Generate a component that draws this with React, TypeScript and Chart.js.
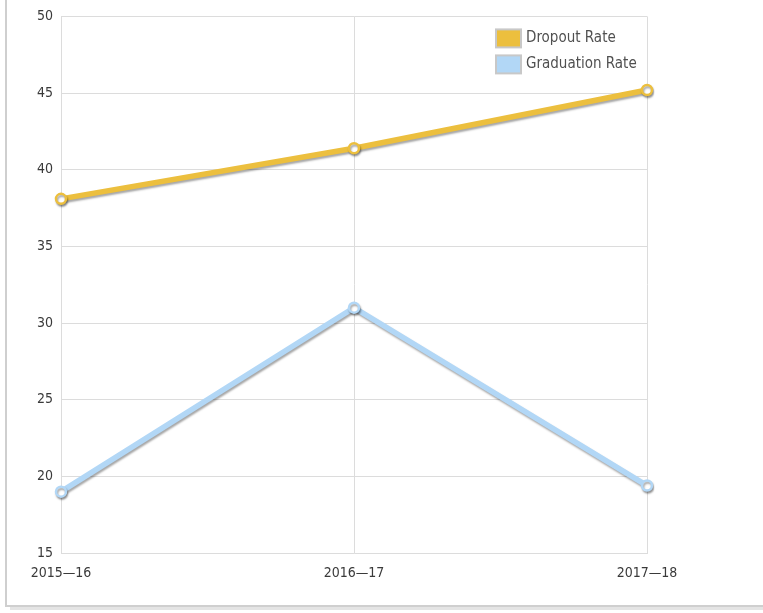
import React, { useEffect, useRef } from "react";
import { Chart, registerables } from "chart.js";

Chart.register(...registerables);

const categories = ["2015\u201416", "2016\u201417", "2017\u201418"];
const dropoutRate = [38.1, 41.4, 45.2];
const graduationRate = [19.0, 31.0, 19.4];
const seriesLabels = ["Dropout Rate", "Graduation Rate"];
const yMin = 15;
const yMax = 50;
const yStep = 5;

const GOLD = "rgb(236,191,62)";
const BLUE = "rgb(178,215,246)";
const FONT = '"DejaVu Sans Condensed", "DejaVu Sans", sans-serif';

const shadowPlugin = {
  id: "lineShadow",
  beforeDatasetsDraw(chart: any) {
    const ctx = chart.ctx;
    ctx.save();
    ctx.shadowColor = "rgba(0,0,0,0.35)";
    ctx.shadowBlur = 2;
    ctx.shadowOffsetX = 1;
    ctx.shadowOffsetY = 2;
  },
  afterDatasetsDraw(chart: any) {
    chart.ctx.restore();
  },
};

const legendPlugin = {
  id: "boxLegend",
  afterDraw(chart: any) {
    const { ctx, chartArea } = chart;
    const x0 = chartArea.right - 152;
    let y = chartArea.top + 12;
    ctx.save();
    chart.data.datasets.forEach((ds: any) => {
      ctx.fillStyle = "#c8c8c8";
      ctx.fillRect(x0, y, 27, 20);
      ctx.fillStyle = ds.borderColor;
      ctx.fillRect(x0 + 2, y + 2, 23, 16);
      ctx.fillStyle = "#505050";
      ctx.font = `15px ${FONT}`;
      ctx.textBaseline = "middle";
      ctx.textAlign = "left";
      ctx.fillText(ds.label, x0 + 31, y + 10);
      y += 26;
    });
    ctx.restore();
  },
};

export default function App() {
  const canvasRef = useRef<HTMLCanvasElement | null>(null);

  useEffect(() => {
    if (!canvasRef.current) return;
    const chart = new Chart(canvasRef.current, {
      type: "line",
      data: {
        labels: categories,
        datasets: [
          {
            label: seriesLabels[0],
            data: dropoutRate,
            borderColor: GOLD,
            backgroundColor: GOLD,
            borderWidth: 5.5,
            pointRadius: 5,
            pointBorderWidth: 2.5,
            pointBackgroundColor: "#ffffff",
            pointBorderColor: GOLD,
            tension: 0,
          },
          {
            label: seriesLabels[1],
            data: graduationRate,
            borderColor: BLUE,
            backgroundColor: BLUE,
            borderWidth: 5.5,
            pointRadius: 5,
            pointBorderWidth: 2.5,
            pointBackgroundColor: "#ffffff",
            pointBorderColor: BLUE,
            tension: 0,
          },
        ],
      },
      options: {
        animation: false,
        responsive: true,
        maintainAspectRatio: false,
        layout: { padding: { left: 0, top: 15, right: 116, bottom: 0 } },
        plugins: {
          legend: { display: false },
          tooltip: { enabled: false },
        },
        scales: {
          x: {
            offset: false,
            grid: { color: "#dcdcdc", lineWidth: 1, drawTicks: false },
            border: { color: "#dcdcdc" },
            ticks: {
              color: "#3a3a3a",
              font: { family: FONT, size: 14 },
              padding: 12,
              maxRotation: 0,
            },
            afterFit(s: any) {
              s.height = 60;
            },
          },
          y: {
            min: yMin,
            max: yMax,
            grid: { color: "#dcdcdc", lineWidth: 1, drawTicks: false },
            border: { color: "#dcdcdc" },
            ticks: {
              stepSize: yStep,
              color: "#3a3a3a",
              font: { family: FONT, size: 14 },
              padding: 8,
            },
            afterFit(s: any) {
              s.width = 61;
            },
          },
        },
      },
      plugins: [shadowPlugin, legendPlugin],
    });
    return () => chart.destroy();
  }, []);

  return (
    <div
      style={{
        position: "fixed",
        left: 0,
        top: 0,
        width: 763,
        height: 613,
        overflow: "hidden",
        background: "#ffffff",
      }}
    >
      <div
        style={{
          position: "absolute",
          left: 5,
          top: -20,
          width: 900,
          height: 627,
          border: "2px solid #cfcfcf",
          boxShadow: "5px 3px 0 #e4e4e4",
          boxSizing: "border-box",
        }}
      />
      <div style={{ position: "absolute", left: 0, top: 0, width: 763, height: 613 }}>
        <canvas ref={canvasRef} />
      </div>
    </div>
  );
}
